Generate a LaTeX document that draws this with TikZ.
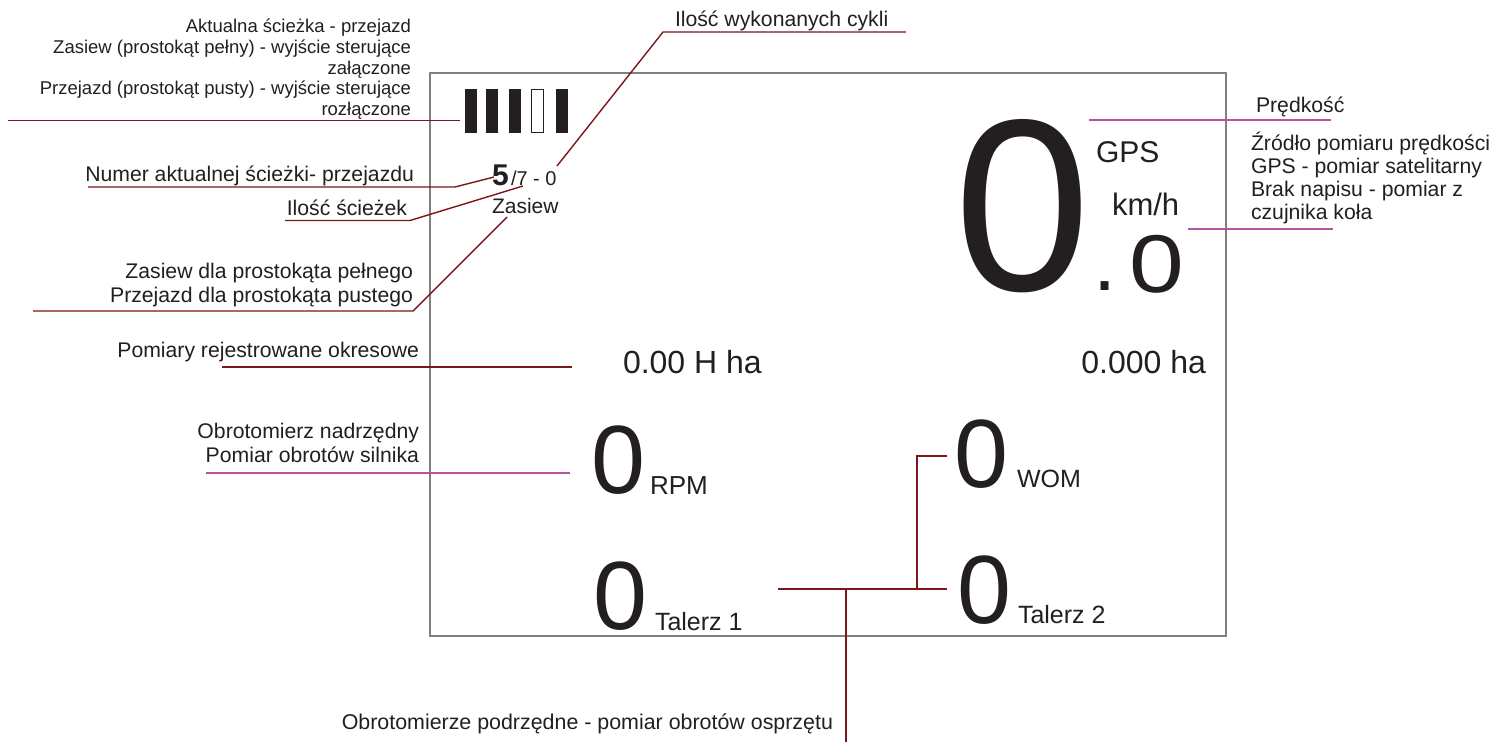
\documentclass[tikz,border=0pt]{standalone}
\usepackage{fontspec}
\setmainfont{Liberation Sans}
\definecolor{ink}{RGB}{35,31,32}
\definecolor{leadred}{RGB}{125,22,26}
\definecolor{leadpink}{RGB}{182,84,160}
\definecolor{framegray}{RGB}{128,128,128}
\newcommand\fsz[1]{\fontsize{#1}{#1}\selectfont}
\begin{document}
\begin{tikzpicture}[x=1pt, y=-1pt,
  every node/.style={inner sep=0pt, outer sep=0pt, text=ink},
  note/.style={font=\fsz{21.2}},
  notesmall/.style={font=\fsz{18.5}},
  unit/.style={font=\fsz{25}},
  mid/.style={font=\fsz{97}},
  redlead/.style={draw=leadred, line width=1.4pt},
  pinklead/.style={draw=leadpink, line width=1.4pt},
  bar/.style={fill=ink}]
\useasboundingbox (0,0) rectangle (1494,742);
\fill[white] (0,0) rectangle (1494,742);

% display frame
\draw[framegray, line width=1.3pt] (430,73) rectangle (1226,636);

% track indicator bars (filled = seeding, empty = pass)
\fill[bar] (465,89) rectangle (477,133);
\fill[bar] (486,89) rectangle (498,133);
\fill[bar] (509,89) rectangle (521,133);
\draw[ink, line width=1.4pt] (531.7,89.7) rectangle (543.3,132.3);
\fill[bar] (556,89) rectangle (568,133);
\coordinate (bars) at (460,120.5);

% track number / track count / cycles
\node[anchor=base west, font=\fsz{30}\bfseries] (curtrack) at (492,185) {5};
\node[anchor=base west, font=\fsz{20}] (tracks) at (511,185) {/7 - 0};
\node[anchor=base west, font=\fsz{21}] (mode) at (492,213) {Zasiew};
\coordinate (p5) at (494,177);
\coordinate (p7) at (523,186);
\coordinate (pcyc) at (557,166);
\coordinate (pmode) at (507,217);

% speed
\node[anchor=base west, font=\fsz{245}] (speed) at (954,290) {0};
\node[anchor=base west, font=\fsz{30}] (gps) at (1096,162) {GPS};
\node[anchor=base west, font=\fsz{31}] (kmh) at (1112,215) {km/h};
\node[anchor=base west, font=\fsz{83}] (dot) at (1093.5,290) {.};
\node[anchor=base west, font=\fsz{82}] (speedfrac) at (1129,292) {\scalebox{1.2}[1]{0}};

% area counters
\node[anchor=base west, font=\fsz{32}] (hha) at (623,373) {0.00 H ha};
\node[anchor=base east, font=\fsz{32}] (ha) at (1206,373) {0.000 ha};

% tachometers
\node[anchor=base west, mid] (rpm) at (591,493) {0};
\node[anchor=base west, font=\fsz{26}] (rpmu) at (650,494) {RPM};
\node[anchor=base west, mid] (wom) at (954,487) {0};
\node[anchor=base west, unit] (womu) at (1017,487) {WOM};
\node[anchor=base west, mid] (t1) at (593,629) {0};
\node[anchor=base west, unit] (t1u) at (655,630) {Talerz 1};
\node[anchor=base west, mid] (t2) at (957,623) {0};
\node[anchor=base west, unit] (t2u) at (1018,623) {Talerz 2};

% ---- descriptions on the left ----
\node[anchor=base east, notesmall] (d1) at (411,32.7) {Aktualna ścieżka - przejazd};
\node[anchor=base east, notesmall] (d2) at (411,53.5) {Zasiew (prostokąt pełny) - wyjście sterujące};
\node[anchor=base east, notesmall] (d3) at (411,74) {załączone};
\node[anchor=base east, notesmall] (d4) at (411,94.5) {Przejazd (prostokąt pusty) - wyjście sterujące};
\node[anchor=base east, notesmall] (d5) at (411,115.5) {rozłączone};
\coordinate (d5l) at (8,120.5);
\draw[redlead] (d5l) -- (bars);

\node[anchor=base east, note] (numer) at (414,181) {Numer aktualnej ścieżki- przejazdu};
\coordinate (numl) at (88,187);
\coordinate (numr) at (455,187);
\draw[redlead] (numl) -- (numr) -- (p5);

\node[anchor=base east, note] (ilosc) at (407,215) {Ilość ścieżek};
\coordinate (ill) at (285,220.5);
\coordinate (ilr) at (410,220.5);
\draw[redlead] (ill) -- (ilr) -- (p7);

\node[anchor=base east, note] (zas1) at (413,278) {Zasiew dla prostokąta pełnego};
\node[anchor=base east, note] (zas2) at (413,302) {Przejazd dla prostokąta pustego};
\coordinate (zasl) at (33,311);
\coordinate (zasr) at (413,311);
\draw[redlead] (zasl) -- (zasr) -- (pmode);

\node[anchor=base west, note] (cykle) at (675,26) {Ilość wykonanych cykli};
\coordinate (cykr) at (906,32);
\coordinate (cykl) at (663,32);
\draw[redlead] (cykr) -- (cykl) -- (pcyc);

\node[anchor=base east, note] (pomiary) at (419,357) {Pomiary rejestrowane okresowe};
\coordinate (poml) at (222,367);
\coordinate (pomr) at (572,367);
\draw[redlead] (poml) -- (pomr);

\node[anchor=base east, note] (obr1) at (419,438) {Obrotomierz nadrzędny};
\node[anchor=base east, note] (obr2) at (419,462) {Pomiar obrotów silnika};
\coordinate (obrl) at (206,473);
\coordinate (obrr) at (570,473);
\draw[pinklead] (obrl) -- (obrr);

% ---- descriptions on the right ----
\node[anchor=base west, note] (predk) at (1256,112) {Prędkość};
\coordinate (prl) at (1089,120);
\coordinate (prr) at (1331,120);
\draw[pinklead] (prl) -- (prr);

\node[anchor=base west, note] (zr1) at (1251,150) {Źródło pomiaru prędkości};
\node[anchor=base west, note] (zr2) at (1251,173) {GPS - pomiar satelitarny};
\node[anchor=base west, note] (zr3) at (1251,196) {Brak napisu - pomiar z};
\node[anchor=base west, note] (zr4) at (1251,219) {czujnika koła};
\coordinate (zrl) at (1188,229);
\coordinate (zrr) at (1333,229);
\draw[pinklead] (zrl) -- (zrr);

% ---- secondary tachometers ----
\coordinate (womtip) at (947,456);
\coordinate (womcorner) at (917,456);
\coordinate (t2tip) at (947,589);
\coordinate (branch) at (917,589);
\coordinate (t1tip) at (778,589);
\coordinate (stem) at (846,589);
\coordinate (stembot) at (846,742);
\draw[redlead] (t1tip) -- (t2tip);
\draw[redlead] (womtip) -- (womcorner) -- (branch);
\draw[redlead] (stem) -- (stembot);
\node[anchor=base east, font=\fsz{21.4}] (osprzet) at (833,729) {Obrotomierze podrzędne - pomiar obrotów osprzętu};
\end{tikzpicture}
\end{document}
